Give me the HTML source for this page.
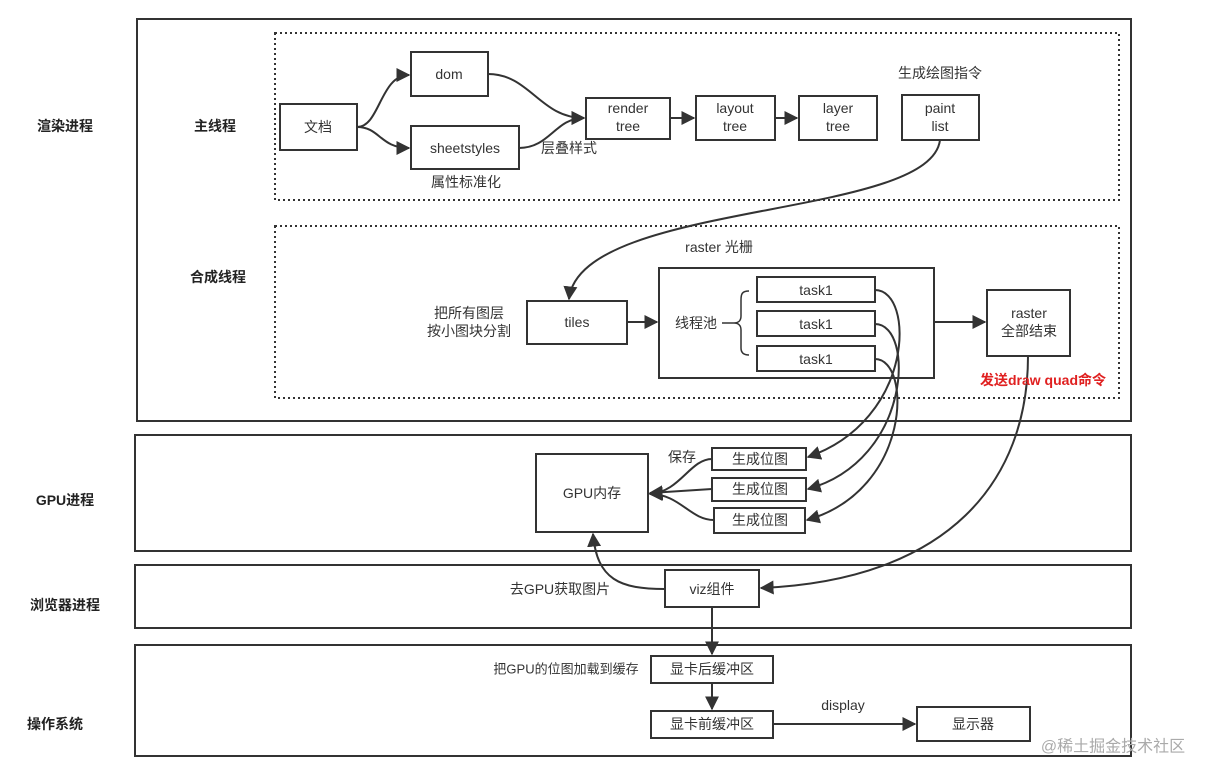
<!DOCTYPE html>
<html><head><meta charset="utf-8"><style>
html,body{margin:0;padding:0;background:#fff}
svg{display:block}
text{font-family:"Liberation Sans","Noto Sans CJK SC",sans-serif;font-size:14px;fill:#333;text-anchor:middle;dominant-baseline:central}
.b{font-weight:bold;fill:#222}
</style></head><body>
<svg width="1215" height="781" viewBox="0 0 1215 781" xmlns="http://www.w3.org/2000/svg">
<defs><marker id="a" viewBox="0 0 10 10" refX="9" refY="5" markerWidth="7" markerHeight="7" orient="auto"><path d="M0,0 L10,5 L0,10 z" fill="#333"/></marker></defs>
<g fill="none" stroke="#333" stroke-width="2">
<rect x="137" y="19" width="994" height="402"/>
<rect x="135" y="435" width="996" height="116"/>
<rect x="135" y="565" width="996" height="63"/>
<rect x="135" y="645" width="996" height="111"/>
<rect x="275" y="33" width="844" height="167" stroke-dasharray="2,3"/>
<rect x="275" y="226" width="844" height="172" stroke-dasharray="2,3"/>
<rect x="280" y="104" width="77" height="46"/>
<rect x="411" y="52" width="77" height="44"/>
<rect x="411" y="126" width="108" height="43"/>
<rect x="586" y="98" width="84" height="41"/>
<rect x="696" y="96" width="79" height="44"/>
<rect x="799" y="96" width="78" height="44"/>
<rect x="902" y="95" width="77" height="45"/>
<rect x="527" y="301" width="100" height="43"/>
<rect x="659" y="268" width="275" height="110"/>
<rect x="757" y="277" width="118" height="25"/>
<rect x="757" y="311" width="118" height="25"/>
<rect x="757" y="346" width="118" height="25"/>
<rect x="987" y="290" width="83" height="66"/>
<rect x="536" y="454" width="112" height="78"/>
<rect x="712" y="448" width="94" height="22"/>
<rect x="712" y="478" width="94" height="23"/>
<rect x="714" y="508" width="91" height="25"/>
<rect x="665" y="570" width="94" height="37"/>
<rect x="651" y="656" width="122" height="27"/>
<rect x="651" y="711" width="122" height="27"/>
<rect x="917" y="707" width="113" height="34"/>
<path d="M357,127 C380,127 380,75 409,75" marker-end="url(#a)"/>
<path d="M357,127 C380,127 380,148 409,148" marker-end="url(#a)"/>
<path d="M488,74 C530,74 540,118 584,118" marker-end="url(#a)"/>
<path d="M519,148 C550,148 555,118 584,118" marker-end="url(#a)"/>
<path d="M670,118 L694,118" marker-end="url(#a)"/>
<path d="M775,118 L797,118" marker-end="url(#a)"/>
<path d="M940,140 C930,220 580,200 569,299" marker-end="url(#a)"/>
<path d="M627,322 L657,322" marker-end="url(#a)"/>
<path d="M749,291 C742,291 741,294 741,300 L741,316 C741,321 738,323 734,323 C738,323 741,325 741,330 L741,348 C741,353 744,355 749,355" stroke-width="1.5"/>
<path d="M734,323 L722,323" stroke-width="1.5"/>
<path d="M875,290 C915,290 915,420 808,457" marker-end="url(#a)"/>
<path d="M875,324 C915,324 912,460 808,489" marker-end="url(#a)"/>
<path d="M875,359 C912,359 912,490 807,520" marker-end="url(#a)"/>
<path d="M934,322 L985,322" marker-end="url(#a)"/>
<path d="M1028,356 C1028,480 950,580 761,588" marker-end="url(#a)"/>
<path d="M712,459 C690,459 680,492 650,494" marker-end="url(#a)"/>
<path d="M712,489 L650,493" marker-end="url(#a)"/>
<path d="M714,520 C690,520 680,494 650,494" marker-end="url(#a)"/>
<path d="M665,589 C620,589 597,580 593,534" marker-end="url(#a)"/>
<path d="M712,607 L712,654" marker-end="url(#a)"/>
<path d="M712,683 L712,709" marker-end="url(#a)"/>
<path d="M773,724 L915,724" marker-end="url(#a)"/>
</g>
<text class="b" x="65" y="126">渲染进程</text>
<text class="b" x="215" y="126">主线程</text>
<text class="b" x="218" y="277">合成线程</text>
<text class="b" x="65" y="500">GPU进程</text>
<text class="b" x="65" y="605">浏览器进程</text>
<text class="b" x="55" y="724">操作系统</text>
<text x="318" y="127">文档</text>
<text x="449" y="74">dom</text>
<text x="465" y="148">sheetstyles</text>
<text x="466" y="182">属性标准化</text>
<text x="569" y="148">层叠样式</text>
<text x="628" y="108">render</text><text x="628" y="126">tree</text>
<text x="735" y="108">layout</text><text x="735" y="126">tree</text>
<text x="838" y="108">layer</text><text x="838" y="126">tree</text>
<text x="940" y="108">paint</text><text x="940" y="126">list</text>
<text x="940" y="73">生成绘图指令</text>
<text x="719" y="247">raster 光栅</text>
<text x="469" y="313">把所有图层</text>
<text x="469" y="331">按小图块分割</text>
<text x="577" y="322">tiles</text>
<text x="696" y="323">线程池</text>
<text x="816" y="290">task1</text>
<text x="816" y="324">task1</text>
<text x="816" y="359">task1</text>
<text x="1029" y="313">raster</text>
<text x="1029" y="331">全部结束</text>
<text class="b" x="1043" y="380" style="fill:#e02020">发送draw quad命令</text>
<text x="592" y="493">GPU内存</text>
<text x="682" y="457">保存</text>
<text x="760" y="459">生成位图</text>
<text x="760" y="489">生成位图</text>
<text x="760" y="520">生成位图</text>
<text x="560" y="589">去GPU获取图片</text>
<text x="712" y="589">viz组件</text>
<text x="566" y="669" style="font-size:13px">把GPU的位图加载到缓存</text>
<text x="712" y="669">显卡后缓冲区</text>
<text x="712" y="724">显卡前缓冲区</text>
<text x="843" y="705">display</text>
<text x="973" y="724">显示器</text>
<text x="1113" y="747" style="fill:#aaa;font-size:16px">@稀土掘金技术社区</text>
</svg>
</body></html>
